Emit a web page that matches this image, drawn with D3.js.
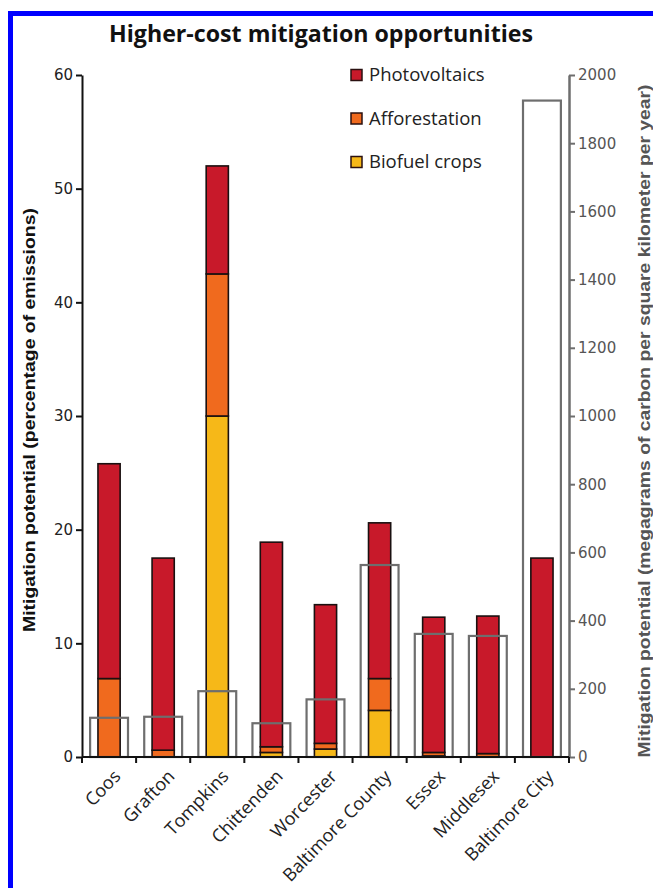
<!DOCTYPE html>
<html>
<head>
<meta charset="utf-8">
<script src="https://cdn.jsdelivr.net/npm/d3@7"></script>
<style>
  html, body { margin: 0; padding: 0; background: #fff; }
  svg { display: block; }
</style>
</head>
<body>
<svg id="chart" width="653" height="888"></svg>
<script>
// Counties, left to right
const counties = ["Coos", "Grafton", "Tompkins", "Chittenden", "Worcester",
                  "Baltimore County", "Essex", "Middlesex", "Baltimore City"];

// Stacked mitigation potential, percentage of emissions
const biofuel       = [0,    0,    30.0, 0.4,  0.7,  4.1,  0.1,  0.0,  0];
const afforestation = [6.9,  0.6,  12.5, 0.5,  0.5,  2.8,  0.3,  0.3,  0];
const photovoltaics = [18.9, 16.9, 9.5,  18.0, 12.2, 13.7, 11.9, 12.1, 17.5];

// Mitigation potential per area, Mg C per km² per year (right axis)
const perArea = [115, 118, 193, 99, 169, 563, 361, 355, 1925];

const leftTicks  = [0, 10, 20, 30, 40, 50, 60];
const rightTicks = [0, 200, 400, 600, 800, 1000, 1200, 1400, 1600, 1800, 2000];

const seriesKeys   = ["biofuel", "afforestation", "photovoltaics"];
const seriesNames  = {photovoltaics: "Photovoltaics", afforestation: "Afforestation", biofuel: "Biofuel crops"};
const seriesColors = {photovoltaics: "#c8192a", afforestation: "#f06a1e", biofuel: "#f6b818"};

const rows = counties.map((c, i) => ({
  county: c,
  biofuel: biofuel[i],
  afforestation: afforestation[i],
  photovoltaics: photovoltaics[i],
  perArea: perArea[i]
}));

const svg = d3.select("#chart");

// page frame
svg.append("rect").attr("x", 8).attr("y", 11).attr("width", 660).attr("height", 5).attr("fill", "#0000ff");
svg.append("rect").attr("x", 8).attr("y", 11).attr("width", 5).attr("height", 900).attr("fill", "#0000ff");

const plotLeft = 82, plotRight = 569, plotTop = 75, plotBottom = 757;

const x = d3.scaleBand().domain(counties).range([plotLeft, plotRight]).paddingInner(0).paddingOuter(0);
const yL = d3.scaleLinear().domain([0, 60]).range([plotBottom, plotTop]);
const yR = d3.scaleLinear().domain([0, 2000]).range([plotBottom, plotTop]);

const barW = x.bandwidth() * 0.41;
const boxW = x.bandwidth() * 0.70;

// title
svg.append("text")
  .attr("x", 321).attr("y", 42)
  .attr("text-anchor", "middle")
  .attr("font-family", "'Open Sans', sans-serif")
  .attr("font-weight", 700)
  .attr("font-size", 23)
  .attr("textLength", 424)
  .attr("lengthAdjust", "spacingAndGlyphs")
  .attr("fill", "#111")
  .text("Higher-cost mitigation opportunities");

// stacked bars
const stacked = d3.stack().keys(seriesKeys)(rows);
svg.append("g").selectAll("g")
  .data(stacked)
  .join("g")
  .attr("fill", d => seriesColors[d.key])
  .selectAll("rect")
  .data(d => d.filter(s => s[1] - s[0] > 0))
  .join("rect")
  .attr("x", d => x(d.data.county) + (x.bandwidth() - barW) / 2)
  .attr("width", barW)
  .attr("y", d => yL(d[1]))
  .attr("height", d => yL(d[0]) - yL(d[1]))
  .attr("stroke", "#1a1010")
  .attr("stroke-width", 1.6);

// per-area outline bars on the right axis
svg.append("g").selectAll("rect")
  .data(rows)
  .join("rect")
  .attr("x", d => x(d.county) + (x.bandwidth() - boxW) / 2)
  .attr("width", boxW)
  .attr("y", d => yR(d.perArea))
  .attr("height", d => yR(0) - yR(d.perArea))
  .attr("fill", "none")
  .attr("stroke", "#6e6e6e")
  .attr("stroke-width", 2.2);

const tickFont = "'DejaVu Sans', Verdana, sans-serif";

// left axis
const gL = svg.append("g")
  .attr("transform", `translate(${plotLeft},0)`)
  .call(d3.axisLeft(yL).tickValues(leftTicks).tickSize(6).tickPadding(3).tickSizeOuter(0));
gL.select(".domain").attr("stroke", "#111").attr("stroke-width", 2);
gL.selectAll(".tick line").attr("stroke", "#111").attr("stroke-width", 2);
gL.selectAll(".tick text").attr("font-family", tickFont).attr("font-size", 15).attr("fill", "#222");

// right axis
const gR = svg.append("g")
  .attr("transform", `translate(${plotRight},0)`)
  .call(d3.axisRight(yR).tickValues(rightTicks).tickFormat(d3.format("d"))
        .tickSize(6).tickPadding(3).tickSizeOuter(0));
gR.select(".domain").attr("stroke", "#6e6e6e").attr("stroke-width", 2.5);
gR.selectAll(".tick line").attr("stroke", "#6e6e6e").attr("stroke-width", 2);
gR.selectAll(".tick text").attr("font-family", tickFont).attr("font-size", 15).attr("fill", "#555");

// category axis with ticks at the band edges
const edges = counties.map(c => x(c)).concat([plotRight]);
const gX = svg.append("g");
gX.append("line")
  .attr("x1", plotLeft).attr("x2", plotRight)
  .attr("y1", plotBottom).attr("y2", plotBottom)
  .attr("stroke", "#111").attr("stroke-width", 2);
gX.selectAll("line.edge")
  .data(edges)
  .join("line")
  .attr("class", "edge")
  .attr("x1", d => d).attr("x2", d => d)
  .attr("y1", plotBottom).attr("y2", plotBottom + 6)
  .attr("stroke", "#111").attr("stroke-width", 2);
gX.selectAll("text")
  .data(counties)
  .join("text")
  .attr("transform", d => `translate(${x(d) + x.bandwidth() / 2 + 8},${plotBottom + 16}) rotate(-46)`)
  .attr("text-anchor", "end")
  .attr("dy", "0.35em")
  .attr("font-family", "'Open Sans', sans-serif")
  .attr("font-size", 18)
  .attr("fill", "#222")
  .text(d => d);

// axis titles
svg.append("text")
  .attr("transform", `translate(35,420) rotate(-90)`)
  .attr("text-anchor", "middle")
  .attr("font-family", "'Liberation Sans', Arial, sans-serif")
  .attr("font-weight", 700)
  .attr("font-size", 17)
  .attr("textLength", 424)
  .attr("lengthAdjust", "spacingAndGlyphs")
  .attr("fill", "#111")
  .text("Mitigation potential (percentage of emissions)");

svg.append("text")
  .attr("transform", `translate(650,421) rotate(-90)`)
  .attr("text-anchor", "middle")
  .attr("font-family", "'Liberation Sans', Arial, sans-serif")
  .attr("font-weight", 700)
  .attr("font-size", 17)
  .attr("textLength", 673)
  .attr("lengthAdjust", "spacingAndGlyphs")
  .attr("fill", "#555")
  .text("Mitigation potential (megagrams of carbon per square kilometer per year)");

// legend
const legendOrder = ["photovoltaics", "afforestation", "biofuel"];
const lg = svg.append("g").selectAll("g")
  .data(legendOrder)
  .join("g")
  .attr("transform", (d, i) => `translate(351,${75 + i * 43.5})`);
lg.append("rect")
  .attr("x", 0).attr("y", -5.5).attr("width", 11).attr("height", 11)
  .attr("fill", d => seriesColors[d])
  .attr("stroke", "#2a1010").attr("stroke-width", 1.5);
lg.append("text")
  .attr("x", 18).attr("dy", "0.35em")
  .attr("font-family", "'Open Sans', sans-serif")
  .attr("font-size", 18.5)
  .attr("fill", "#222")
  .text(d => seriesNames[d]);
</script>
</body>
</html>
